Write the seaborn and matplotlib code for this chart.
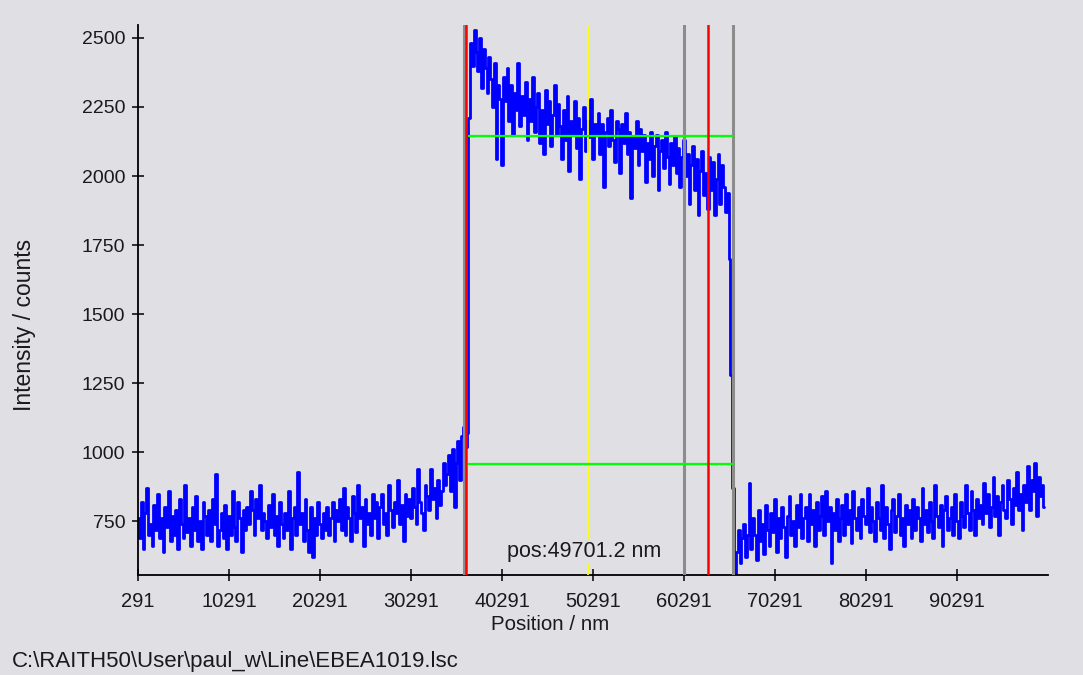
import numpy as np
import pandas as pd
import seaborn as sns
import matplotlib
matplotlib.use("Agg")
from matplotlib import pyplot as plt

outfile = "out.png"

# scan start and step (nm)
start_pos = 291.0
step_pos = 200.0

# intensity, left background (291 .. ~36500 nm)
counts_left = [
    760, 690, 820, 650, 780, 870, 700, 740, 660, 810,
    720, 850, 690, 760, 640, 800, 730, 860, 680, 770,
    700, 790, 650, 830, 740, 690, 880, 710, 760, 660,
    800, 720, 840, 680, 750, 650, 820, 770, 700, 790,
    680, 830, 740, 920, 660, 720, 780, 690, 810, 650,
    770, 700, 860, 730, 680, 820, 760, 640, 790, 720,
    800, 740, 860, 790, 700, 830, 760, 880, 720, 780,
    750, 690, 810, 730, 850, 700, 770, 660, 820, 740,
    690, 780, 720, 860, 650, 760, 800, 700, 930, 740,
    780, 680, 830, 720, 640, 800, 620, 760, 700, 820,
    740, 690, 780, 720, 800, 700, 760, 820, 680, 790,
    750, 830, 720, 870, 700, 800, 760, 680, 840, 780,
    710, 880, 760, 800, 660, 830, 740, 780, 700, 850,
    760, 820, 690, 800, 850, 740, 780, 700, 880, 790,
    730, 820, 780, 900, 740, 810, 680, 850, 770, 830,
    760, 870, 800, 740, 940, 820, 780, 720, 880, 840,
    790, 940, 830, 870, 760, 900, 810, 860, 960, 880,
    920, 990, 860, 1010, 800, 960, 1040, 900, 1060, 1090,
    1020, 1070,
]

# irradiated stripe (~36700 .. ~65500 nm) and the falling edge
counts_stripe = [
    2210, 2480, 2400, 2530, 2450, 2380, 2500, 2320, 2460, 2390,
    2300, 2430, 2350, 2250, 2410, 2060, 2330, 2280, 2040, 2360,
    2270, 2390, 2200, 2330, 2150, 2300, 2240, 2410, 2180, 2290,
    2220, 2340, 2130, 2280, 2200, 2360, 2160, 2250, 2300, 2120,
    2240, 2080, 2310, 2190, 2270, 2110, 2220, 2330, 2150, 2260,
    2180, 2060, 2240, 2130, 2290, 2020, 2200, 2150, 2270, 2100,
    2210, 1990, 2170, 2250, 2090, 2200, 2140, 2280, 2060, 2190,
    2150, 2230, 2080, 2190, 1960, 2160, 2210, 2110, 2240, 2130,
    2050, 2200, 2170, 2010, 2190, 2120, 2230, 2080, 2160, 1920,
    2140, 2100, 2200, 2040, 2170, 2090, 2150, 1980, 2120, 2060,
    2160, 2000, 2110, 2150, 1950, 2090, 2130, 2030, 2160, 2070,
    1970, 2120, 2040, 2140, 2010, 2100, 1960, 2070, 2130, 2000,
    2080, 1900, 2040, 2110, 1950, 2060, 1860, 2020, 2090, 1930,
    2010, 1880, 2070, 1950, 2050, 1860, 1990, 2080, 1900, 2040,
    1960, 1870, 1940,
    1700, 1280,
]

# right background (~65700 .. ~99900 nm)
counts_right = [
    870, 540, 640, 720, 600, 690, 740, 620, 700, 890,
    650, 760, 700, 610, 790, 680, 740, 630, 810, 720,
    660, 780, 710, 830, 640, 760, 690, 800, 730, 620,
    770, 840, 700, 750, 660, 810, 730, 850, 690, 760,
    800, 680, 850, 740, 790, 660, 820, 720, 770, 840,
    700, 860, 750, 800, 600, 780, 720, 830, 680, 760,
    810, 700, 850, 740, 790, 670, 860, 760, 720, 800,
    690, 830, 770, 740, 870, 710, 800, 750, 680, 820,
    760, 720, 880, 690, 800, 740, 650, 790, 830, 710,
    770, 850, 700, 760, 660, 810, 740, 790, 690, 830,
    720, 800, 760, 680, 870, 740, 790, 710, 820, 750,
    690, 880, 770, 730, 810, 660, 790, 840, 720, 760,
    800, 700, 850, 750, 690, 820, 770, 730, 880, 780,
    720, 860, 790, 700, 830, 760, 810, 740, 890, 780,
    850, 730, 800, 910, 770, 840, 700, 820, 880, 790,
    760, 900, 830, 740, 870, 810, 930, 790, 850, 720,
    880, 820, 950, 790, 900, 860, 960, 770, 910, 840,
    880, 800,
]

# cursors (nm)
cursor_grey = [36118, 60291, 65681]
cursor_red = [36340, 62934]
cursor_yellow = 49701.2
level_green = [2145, 956]
level_span = (36560, 65681)

x_ticks = [291, 10291, 20291, 30291, 40291, 50291, 60291, 70291, 80291, 90291]
y_ticks = [750, 1000, 1250, 1500, 1750, 2000, 2250, 2500]

file_label = "C:\\RAITH50\\User\\paul_w\\Line\\EBEA1019.lsc"

counts = counts_left + counts_stripe + counts_right
scan = pd.DataFrame({
    "position": start_pos + step_pos * np.arange(len(counts)),
    "intensity": counts,
})

bg = "#e0dfe3"
ink = "#1a1a1a"
sns.set_style("ticks", {"axes.facecolor": bg, "figure.facecolor": bg})
plt.rcParams["font.family"] = ["Liberation Sans", "DejaVu Sans"]

fig = plt.figure(figsize=(10.83, 6.75), dpi=100)
ax = fig.add_axes([0.1274, 0.148, 0.8403, 0.815])

sns.lineplot(data=scan, x="position", y="intensity", color="#0000ff",
             linewidth=2.0, drawstyle="steps-mid", ax=ax, zorder=2)

for xv in cursor_grey:
    ax.axvline(xv, color="#8c8c8c", linewidth=2.2, zorder=3)
for xv in cursor_red:
    ax.axvline(xv, color="#ff0000", linewidth=1.8, zorder=4)
ax.axvline(cursor_yellow, color="#ffff00", linewidth=1.3, zorder=3)
for yv in level_green:
    ax.hlines(yv, level_span[0], level_span[1], color="#00ff00",
              linewidth=1.6, zorder=3)

ax.text(cursor_yellow - 400, 641, "pos:%.1f nm" % cursor_yellow, ha="center",
        va="center", fontsize=15.5, color=ink, zorder=5,
        bbox=dict(facecolor=bg, edgecolor="none", pad=1.5))

ax.set_xlim(291, 100291)
ax.set_ylim(555, 2547)
ax.set_xticks(x_ticks)
ax.set_yticks(y_ticks)
ax.set_xticklabels([str(v) for v in x_ticks])
ax.tick_params(direction="inout", length=8, width=1.1, colors="black",
               labelcolor=ink)
ax.tick_params(axis="x", labelsize=14.5, pad=8)
ax.tick_params(axis="y", labelsize=14, pad=5)
sns.despine(ax=ax)
for side in ["left", "bottom"]:
    ax.spines[side].set_linewidth(1.3)
    ax.spines[side].set_color("black")

ax.set_xlabel("Position / nm", fontsize=14.8, color=ink)
ax.xaxis.set_label_coords(0.453, -0.072)
ax.xaxis.label.set_va("top")
ax.set_ylabel("Intensity / counts", fontsize=16.5, color=ink)
ax.yaxis.set_label_coords(-0.112, 0.455)
fig.text(0.011, 1 - 662 / 675, file_label, fontsize=16, color=ink,
         ha="left", va="center")

fig.savefig(outfile, dpi=100, facecolor=bg)
